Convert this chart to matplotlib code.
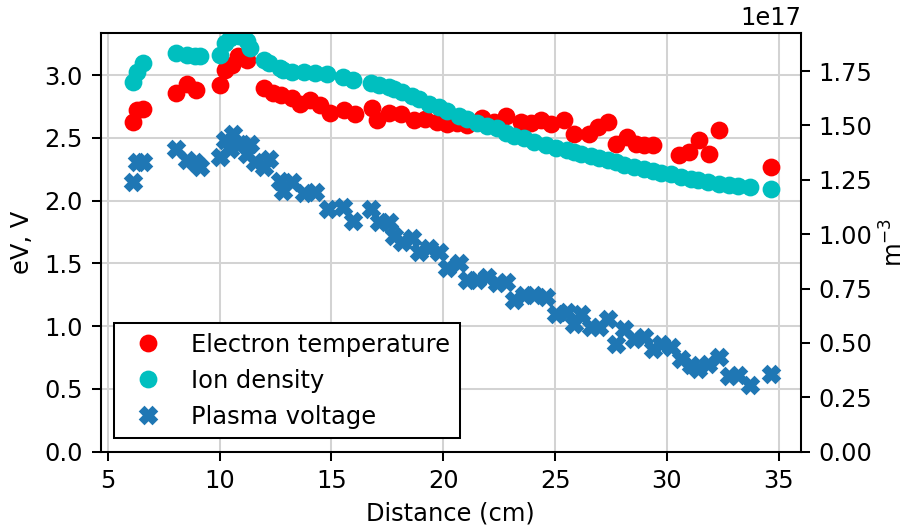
import matplotlib
matplotlib.use("Agg")
import matplotlib.pyplot as plt
import numpy as np

plt.rcParams["font.size"] = 9.5

# Electron temperature (eV) - left axis
te_x = [6.12, 6.30, 6.60, 8.05, 8.55, 8.95, 10.03, 10.25, 10.55, 10.84, 11.22,
        11.97, 12.40, 12.75, 13.24, 13.60, 14.05, 14.50, 14.92, 15.55, 16.07,
        16.82, 17.05, 17.57, 18.09, 18.69, 19.20, 19.73, 20.18, 20.60, 21.08,
        21.75, 22.27, 22.80, 23.46, 23.90, 24.36, 24.80, 25.40, 25.85, 26.50,
        26.90, 27.35, 27.72, 28.20, 28.60, 28.99, 29.36, 30.55, 31.00, 31.45,
        31.90, 32.34, 34.65]
te_y = [2.63, 2.72, 2.73, 2.86, 2.93, 2.88, 2.92, 3.04, 3.08, 3.15, 3.12,
        2.90, 2.86, 2.84, 2.82, 2.77, 2.80, 2.76, 2.70, 2.72, 2.69,
        2.74, 2.64, 2.70, 2.69, 2.64, 2.65, 2.63, 2.61, 2.62, 2.60,
        2.66, 2.63, 2.67, 2.63, 2.62, 2.64, 2.61, 2.64, 2.53, 2.53,
        2.59, 2.63, 2.45, 2.51, 2.45, 2.44, 2.44, 2.36, 2.39, 2.48,
        2.37, 2.56, 2.27]

# Ion density (1e17 m^-3) - right axis
ni_x = [6.12, 6.30, 6.60, 8.05, 8.54, 8.91, 9.13, 10.03, 10.25, 10.48, 10.62,
        10.85, 11.22, 11.37, 11.97, 12.19, 12.70, 12.86, 13.24, 13.76, 14.28,
        14.80, 15.50, 15.95, 16.75, 17.12, 17.57, 17.80, 18.17, 18.60, 18.90,
        19.36, 19.80, 20.18, 20.70, 21.08, 21.52, 21.97, 22.42, 22.80, 23.16,
        23.60, 24.06, 24.58, 25.03, 25.55, 25.85, 26.15, 26.60, 26.97, 27.35,
        27.72, 28.09, 28.54, 28.98, 29.36, 29.73, 30.18, 30.63, 31.08, 31.38,
        31.82, 32.34, 32.79, 33.17, 33.69, 34.66]
ni_y = [1.700, 1.747, 1.786, 1.835, 1.824, 1.820, 1.820, 1.824, 1.878, 1.900, 1.910,
        1.910, 1.890, 1.855, 1.800, 1.786, 1.763, 1.755, 1.747, 1.745, 1.742,
        1.735, 1.724, 1.710, 1.695, 1.686, 1.675, 1.668, 1.652, 1.635, 1.622,
        1.600, 1.585, 1.568, 1.545, 1.528, 1.510, 1.497, 1.487, 1.465, 1.452,
        1.441, 1.425, 1.410, 1.398, 1.387, 1.378, 1.370, 1.360, 1.350, 1.340,
        1.330, 1.320, 1.310, 1.300, 1.290, 1.280, 1.275, 1.265, 1.255, 1.248,
        1.240, 1.232, 1.226, 1.222, 1.218, 1.206]

# Plasma voltage (V) - left axis
vp_x = [6.12, 6.30, 6.60, 8.05, 8.54, 8.91, 9.13, 10.03, 10.25, 10.48, 10.62,
        10.85, 11.22, 11.37, 11.60, 11.97, 12.19, 12.70, 12.86, 13.24, 13.76,
        14.28, 14.85, 15.50, 15.95, 16.75, 17.12, 17.57, 17.80, 18.17, 18.60,
        18.90, 19.36, 19.80, 20.18, 20.70, 21.08, 21.52, 21.97, 22.42, 22.80,
        23.16, 23.60, 24.06, 24.58, 25.03, 25.55, 25.85, 26.15, 26.60, 26.97,
        27.35, 27.72, 28.09, 28.54, 28.98, 29.36, 29.73, 30.18, 30.63, 31.08,
        31.38, 31.82, 32.34, 32.79, 33.17, 33.69, 34.66]
vp_y = [2.15, 2.31, 2.31, 2.41, 2.32, 2.31, 2.27, 2.35, 2.48, 2.41, 2.53,
        2.45, 2.37, 2.45, 2.31, 2.27, 2.33, 2.16, 2.08, 2.15, 2.06,
        2.07, 1.93, 1.95, 1.84, 1.93, 1.83, 1.83, 1.72, 1.67, 1.70,
        1.59, 1.62, 1.59, 1.46, 1.50, 1.37, 1.37, 1.39, 1.34, 1.35,
        1.21, 1.25, 1.25, 1.23, 1.10, 1.11, 1.02, 1.10, 0.99, 0.99,
        1.06, 0.86, 0.98, 0.90, 0.915, 0.82, 0.86, 0.835, 0.74, 0.69,
        0.66, 0.70, 0.755, 0.60, 0.61, 0.53, 0.62]

DPI = 183
fig = plt.figure(figsize=(901 / DPI, 528 / DPI), dpi=DPI)
ax = fig.add_axes([100.7 / 901, 1 - 451.7 / 528, (801 - 100.7) / 901, (451.7 - 33) / 528])
ax2 = ax.twinx()

ax.grid(True, color="lightgray", linewidth=0.8)
h1, = ax.plot(te_x, te_y, "o", color="r", markersize=6, label="Electron temperature")
h3, = ax.plot(vp_x, vp_y, "X", color="#1f77b4", markersize=6, label="Plasma voltage")
h2, = ax2.plot(ni_x, np.array(ni_y) * 1e17, "o", color="c", markersize=6, label="Ion density")

ax.set_xlim(4.69, 35.99)
ax.set_ylim(0, 3.335)
ax2.set_ylim(0, 1.925e17)
ax.set_xticks([5, 10, 15, 20, 25, 30, 35])
ax.set_yticks([0.0, 0.5, 1.0, 1.5, 2.0, 2.5, 3.0])
ax2.set_yticks([0.0, 0.25e17, 0.5e17, 0.75e17, 1.0e17, 1.25e17, 1.5e17, 1.75e17])

ax.set_xlabel("Distance (cm)", labelpad=3)
ax.set_ylabel("eV, V")
ax2.set_ylabel("m$^{-3}$")
ax2.yaxis.set_label_coords((880 - 100.7) / 700.3, 0.5)

leg = ax2.legend([h1, h2, h3], ["Electron temperature", "Ion density", "Plasma voltage"],
                 loc="lower left", fancybox=False, framealpha=1, edgecolor="black",
                 borderaxespad=0.55)
leg.get_frame().set_linewidth(0.8)

fig.savefig("out.png", dpi=DPI)
